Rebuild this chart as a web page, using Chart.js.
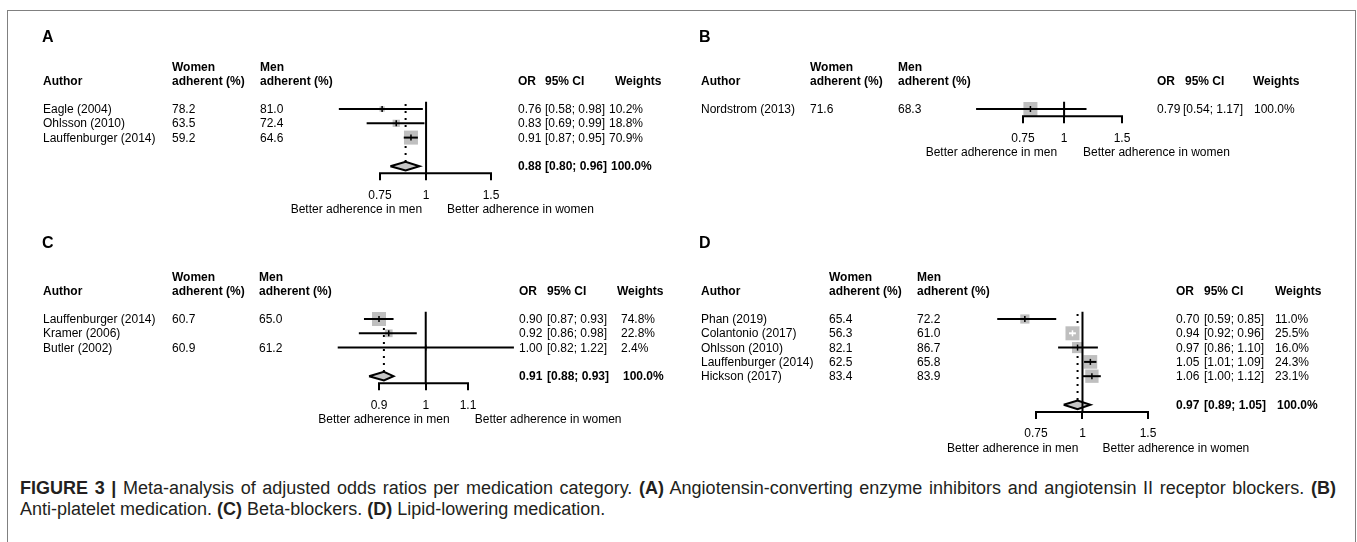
<!DOCTYPE html>
<html>
<head>
<meta charset="utf-8">
<script src="https://cdn.jsdelivr.net/npm/chart.js@4.4.1/dist/chart.umd.min.js"></script>
<style>
  html, body { margin: 0; padding: 0; background: #fff; }
  body { width: 1357px; height: 542px; overflow: hidden; position: relative; }
  #frame { position: absolute; left: 7px; top: 10px; width: 1347px; height: 600px;
           border: 1.5px solid #808080; border-bottom: none; }
  canvas { position: absolute; }
  .t { position: absolute; font: 12px "Liberation Sans", Arial, sans-serif; line-height: 14px;
       white-space: nowrap; color: #000; }
  .cap { position: absolute; left: 20px; font: 18px "Liberation Sans", Arial, sans-serif;
         line-height: 22px; color: #231f20; white-space: nowrap; }
  #cap1 { top: 477px; width: 1316px; white-space: normal; text-align: justify; text-align-last: justify; }
  #cap2 { top: 498px; }
</style>
</head>
<body>
<div id="frame"></div>
<canvas id="cA"></canvas>
<canvas id="cB"></canvas>
<canvas id="cC"></canvas>
<canvas id="cD"></canvas>
<div id="cap1" class="cap"><b>FIGURE 3 |</b> Meta-analysis of adjusted odds ratios per medication category. <b>(A)</b> Angiotensin-converting enzyme inhibitors and angiotensin II receptor blockers. <b>(B)</b></div>
<div id="cap2" class="cap">Anti-platelet medication. <b>(C)</b> Beta-blockers. <b>(D)</b> Lipid-lowering medication.</div>
<script>
// A: ACE inhibitors / ARBs
const authorsA = ["Eagle (2004)", "Ohlsson (2010)", "Lauffenburger (2014)"];
const womenA = ["78.2", "63.5", "59.2"];
const menA = ["81.0", "72.4", "64.6"];
const orA = [0.76, 0.83, 0.91];
const lowerA = [0.58, 0.69, 0.87];
const upperA = [0.98, 0.99, 0.95];
const weightsA = [10.2, 18.8, 70.9];
const pooledA = [0.88, 0.80, 0.96, 100.0];   // OR, lower, upper, weight
const ticksA = [0.75, 1, 1.5];

// B: anti-platelet
const authorsB = ["Nordstrom (2013)"];
const womenB = ["71.6"];
const menB = ["68.3"];
const orB = [0.79];
const lowerB = [0.54];
const upperB = [1.17];
const weightsB = [100.0];
const ticksB = [0.75, 1, 1.5];

// C: beta-blockers
const authorsC = ["Lauffenburger (2014)", "Kramer (2006)", "Butler (2002)"];
const womenC = ["60.7", "", "60.9"];
const menC = ["65.0", "", "61.2"];
const orC = [0.90, 0.92, 1.00];
const lowerC = [0.87, 0.86, 0.82];
const upperC = [0.93, 0.98, 1.22];
const weightsC = [74.8, 22.8, 2.4];
const pooledC = [0.91, 0.88, 0.93, 100.0];
const ticksC = [0.9, 1, 1.1];

// D: lipid-lowering
const authorsD = ["Phan (2019)", "Colantonio (2017)", "Ohlsson (2010)", "Lauffenburger (2014)", "Hickson (2017)"];
const womenD = ["65.4", "56.3", "82.1", "62.5", "83.4"];
const menD = ["72.2", "61.0", "86.7", "65.8", "83.9"];
const orD = [0.70, 0.94, 0.97, 1.05, 1.06];
const lowerD = [0.59, 0.92, 0.86, 1.01, 1.00];
const upperD = [0.85, 0.96, 1.10, 1.09, 1.12];
const weightsD = [11.0, 25.5, 16.0, 24.3, 23.1];
const pooledD = [0.97, 0.89, 1.05, 100.0];
const ticksD = [0.75, 1, 1.5];

const FONT = '"Liberation Sans", Arial, sans-serif';
const ROW = 14.3;     // px per study row
const SQ = 14;        // side of the biggest square
const AXIS_H = 34;

Chart.defaults.font.family = FONT;

function addText(str, x, y, opt) {
  opt = opt || {};
  const el = document.createElement('div');
  el.className = 't';
  el.textContent = str;
  const size = opt.size || 12;
  const lh = size + 2;
  el.style.fontSize = size + 'px';
  el.style.lineHeight = lh + 'px';
  el.style.left = x + 'px';
  el.style.top = (y - lh / 2) + 'px';
  if (opt.bold) el.style.fontWeight = 'bold';
  if (opt.right) el.style.transform = 'translateX(-100%)';
  document.body.appendChild(el);
}

function forest(d, lay) {
  const n = d.authors.length;
  const hasPooled = !!d.pooled;
  const yDia = n + 1;
  const yMax = hasPooled ? n + 1.5 : n - 0.5;
  const topPx = lay.row0 - ROW / 2;
  const botPx = topPx + (yMax + 0.5) * ROW;

  // x range wide enough for every CI, so no mark falls outside the chart area
  const t0 = d.ticks[0], t1 = d.ticks[d.ticks.length - 1];
  const k = (lay.xr - lay.xl) / Math.log(t1 / t0);
  const xMin = Math.min(t0, ...d.lower) * 0.95;
  const xMax = Math.max(t1, ...d.upper) * 1.05;
  const leftPx = lay.xl - k * Math.log(t0 / xMin);
  const rightPx = lay.xr + k * Math.log(xMax / t1);

  const c = document.getElementById(lay.id);
  c.width = lay.w; c.height = lay.h;
  c.style.left = lay.x + 'px'; c.style.top = lay.y + 'px';
  c.style.width = lay.w + 'px'; c.style.height = lay.h + 'px';

  const maxW = Math.max(...d.weights);
  const sides = d.weights.map(w => SQ * Math.sqrt(w / maxW));
  // CI well inside its square is drawn in white
  const inside = (chart, i) => {
    const s = chart.scales.x;
    return s.getPixelForValue(d.upper[i]) - s.getPixelForValue(d.lower[i]) < 0.6 * sides[i];
  };
  const pts = d.or.map((v, i) => ({ x: v, y: i }));

  const ds = [];
  // axis line, only between the end ticks
  ds.push({ order: 0, data: [{ x: t0, y: yMax }, { x: t1, y: yMax }], showLine: true,
            borderColor: '#000', borderWidth: 2, borderCapStyle: 'square', pointRadius: 0 });
  // reference line at OR = 1
  ds.push({ order: 0, data: [{ x: 1, y: -0.5 }, { x: 1, y: yMax }], showLine: true,
            borderColor: '#000', borderWidth: 2, pointRadius: 0 });
  ds.push({ order: 1, data: pts, pointStyle: 'line', pointRotation: 90, pointRadius: 3,
            pointBorderWidth: 1.5,
            pointBorderColor: ctx => inside(ctx.chart, ctx.dataIndex) ? '#fff' : '#000' });
  d.or.forEach((v, i) => {
    ds.push({ order: 2, data: [{ x: d.lower[i], y: i }, { x: d.upper[i], y: i }], showLine: true,
              borderWidth: 2, pointRadius: 0,
              borderColor: ctx => inside(ctx.chart, i) ? '#fff' : '#000' });
  });
  ds.push({ order: 4, data: pts, pointStyle: 'rect', pointRadius: sides.map(s => s / Math.SQRT2),
            pointBackgroundColor: '#bfbfbf', pointBorderWidth: 0 });
  if (hasPooled) {
    const [est, lo, hi] = d.pooled;
    ds.push({ order: 3, data: [{ x: lo, y: yDia }, { x: est, y: yDia - 0.3 }, { x: hi, y: yDia },
                               { x: est, y: yDia + 0.3 }, { x: lo, y: yDia }],
              showLine: true, fill: 'shape', backgroundColor: '#c6c6c6', borderColor: '#000',
              borderWidth: 2, borderJoinStyle: 'miter', pointRadius: 0 });
    ds.push({ order: 5, data: [{ x: est, y: -0.35 }, { x: est, y: yDia - 0.3 }], showLine: true,
              borderColor: '#000', borderWidth: 2, borderDash: [2, 5], pointRadius: 0 });
  }
  ds.forEach(s => { s.clip = false; });

  const chart = new Chart(c, {
    type: 'scatter',
    data: { datasets: ds },
    options: {
      responsive: false,
      animation: false,
      devicePixelRatio: 1,
      events: [],
      layout: { padding: { left: leftPx - lay.x, right: lay.x + lay.w - rightPx,
                           top: topPx - lay.y, bottom: lay.y + lay.h - botPx - AXIS_H } },
      plugins: { legend: { display: false }, tooltip: { enabled: false } },
      scales: {
        x: {
          type: 'logarithmic',
          bounds: 'data',
          min: xMin, max: xMax,
          afterBuildTicks: s => { s.ticks = d.ticks.map(v => ({ value: v })); },
          afterFit: s => { s.height = AXIS_H; },
          border: { display: false },
          grid: { display: true, drawOnChartArea: false, drawTicks: true, tickLength: 7,
                  color: '#000', lineWidth: 2 },
          ticks: { color: '#000', font: { size: 12 }, padding: 8, autoSkip: false,
                   maxRotation: 0, callback: v => String(v) }
        },
        y: { type: 'linear', display: false, reverse: true, min: -0.5, max: yMax }
      }
    }
  });

  const py = v => lay.y + chart.scales.y.getPixelForValue(v);
  const px = v => lay.x + chart.scales.x.getPixelForValue(v);
  const cols = lay.cols;

  addText(lay.letter, lay.letterX, lay.letterY, { bold: true, size: 16 });
  addText('Author', cols[0], lay.row0 - 28, { bold: true });
  addText('Women', cols[1], lay.row0 - 42, { bold: true });
  addText('adherent (%)', cols[1], lay.row0 - 28, { bold: true });
  addText('Men', cols[2], lay.row0 - 42, { bold: true });
  addText('adherent (%)', cols[2], lay.row0 - 28, { bold: true });
  addText('OR', cols[3], lay.row0 - 28, { bold: true });
  addText('95% CI', lay.hCi, lay.row0 - 28, { bold: true });
  addText('Weights', lay.hW, lay.row0 - 28, { bold: true });

  d.authors.forEach((a, i) => {
    const y = py(i);
    addText(a, cols[0], y);
    addText(d.women[i], cols[1], y);
    addText(d.men[i], cols[2], y);
    addText(d.or[i].toFixed(2), cols[3], y);
    addText('[' + d.lower[i].toFixed(2) + '; ' + d.upper[i].toFixed(2) + ']', cols[4], y);
    addText(d.weights[i].toFixed(1) + '%', cols[5], y);
  });
  if (hasPooled) {
    const [est, lo, hi, w] = d.pooled;
    const y = py(yDia);
    addText(est.toFixed(2), cols[3], y, { bold: true });
    addText('[' + lo.toFixed(2) + '; ' + hi.toFixed(2) + ']', cols[4], y, { bold: true });
    addText(w.toFixed(1) + '%', cols[5] + 2, y, { bold: true });
  }
  addText('Better adherence in men', px(1) + lay.menDx, botPx + 36, { right: true });
  addText('Better adherence in women', px(1) + lay.womenDx, botPx + 36);
}

forest({ authors: authorsA, women: womenA, men: menA, or: orA, lower: lowerA, upper: upperA,
         weights: weightsA, pooled: pooledA, ticks: ticksA },
       { id: 'cA', x: 8, y: 12, w: 670, h: 220, row0: 109, xl: 380, xr: 491,
         letter: 'A', letterX: 42, letterY: 37, cols: [43, 172, 260, 518, 545, 609],
         hCi: 545, hW: 615, menDx: -4, womenDx: 21 });

forest({ authors: authorsB, women: womenB, men: menB, or: orB, lower: lowerB, upper: upperB,
         weights: weightsB, pooled: null, ticks: ticksB },
       { id: 'cB', x: 680, y: 12, w: 670, h: 220, row0: 109, xl: 1023, xr: 1122,
         letter: 'B', letterX: 699, letterY: 37, cols: [701, 810, 898, 1157, 1183, 1254],
         hCi: 1185, hW: 1253, menDx: -7, womenDx: 19 });

forest({ authors: authorsC, women: womenC, men: menC, or: orC, lower: lowerC, upper: upperC,
         weights: weightsC, pooled: pooledC, ticks: ticksC },
       { id: 'cC', x: 8, y: 232, w: 670, h: 225, row0: 319, xl: 379, xr: 468,
         letter: 'C', letterX: 42, letterY: 243, cols: [43, 172, 259, 519, 547, 621],
         hCi: 547, hW: 617, menDx: 24, womenDx: 49 });

forest({ authors: authorsD, women: womenD, men: menD, or: orD, lower: lowerD, upper: upperD,
         weights: weightsD, pooled: pooledD, ticks: ticksD },
       { id: 'cD', x: 680, y: 232, w: 670, h: 225, row0: 319, xl: 1036, xr: 1148,
         letter: 'D', letterX: 699, letterY: 243, cols: [701, 829, 917, 1176, 1204, 1275],
         hCi: 1204, hW: 1275, menDx: -4, womenDx: 20 });
</script>
</body>
</html>
